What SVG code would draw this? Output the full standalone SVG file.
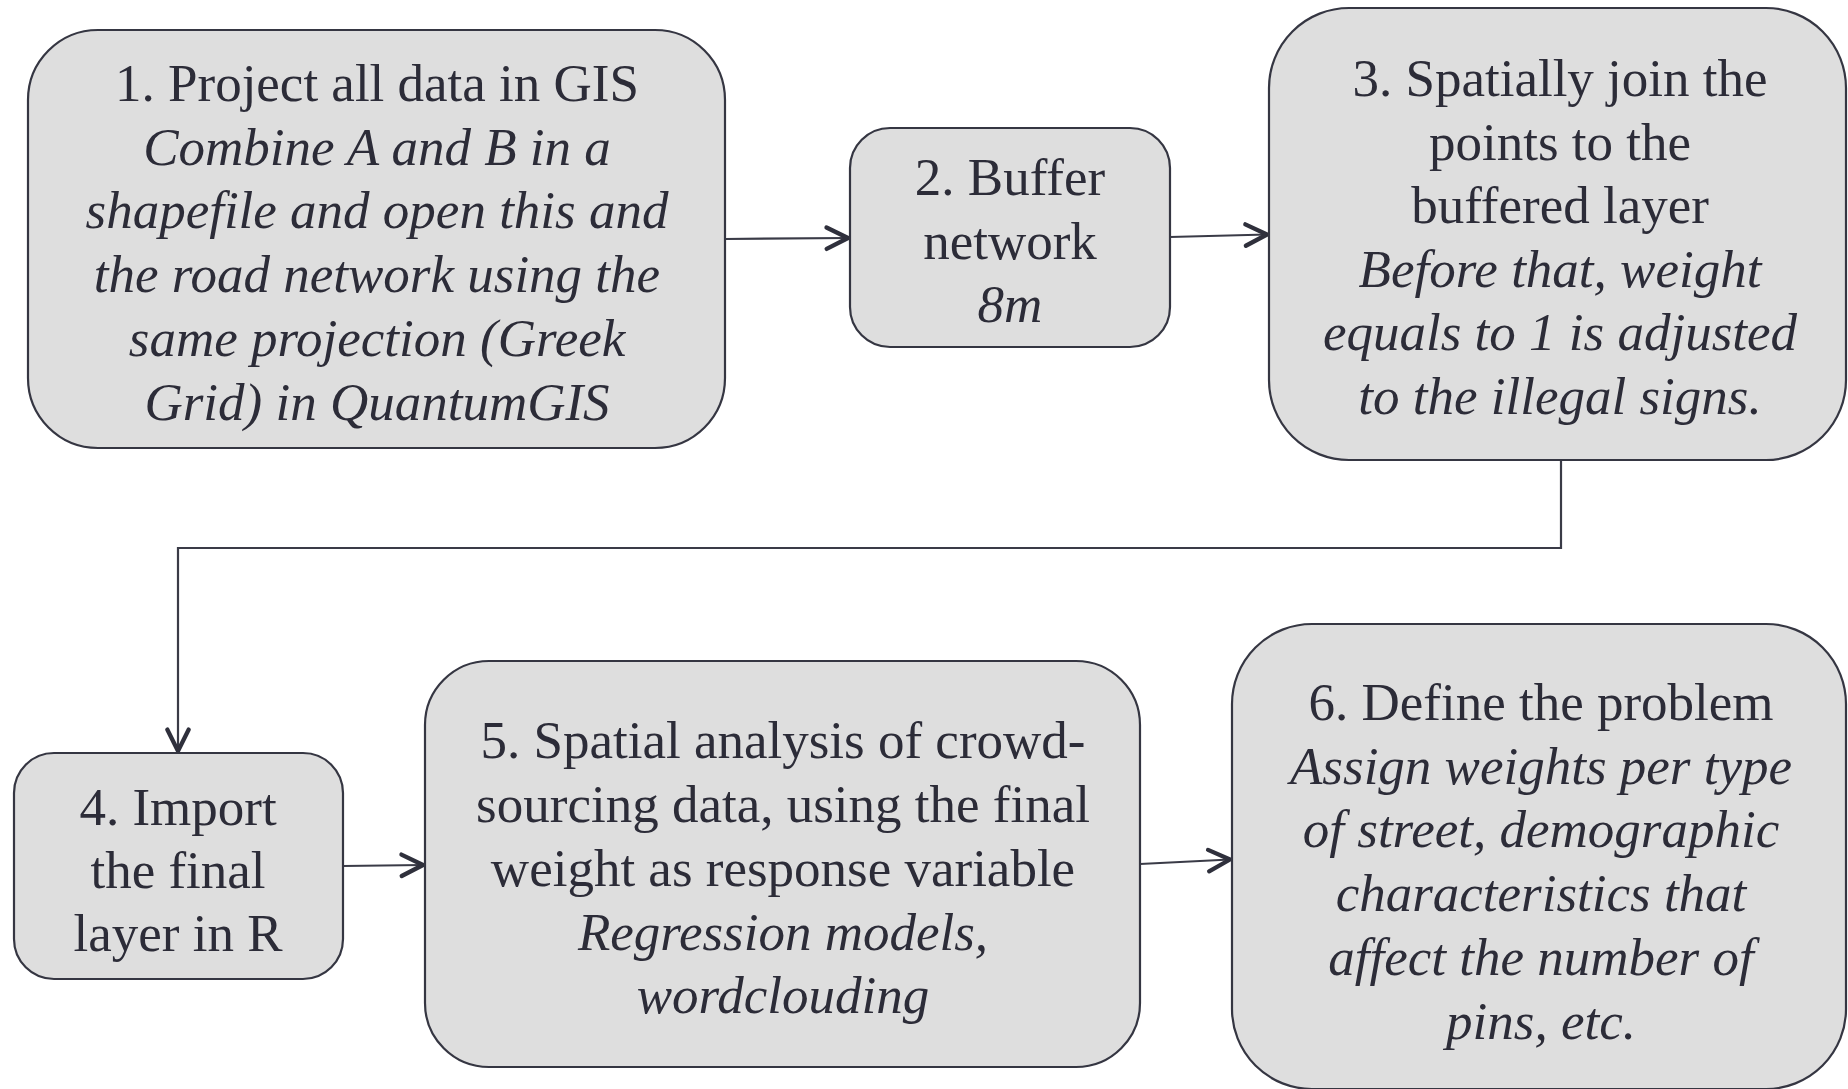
<svg xmlns="http://www.w3.org/2000/svg" width="1848" height="1089" viewBox="0 0 1848 1089">
<style>
.box{fill:#dedede;stroke:#353642;stroke-width:2.2}
.t{font-family:"Liberation Serif","Times New Roman",serif;font-size:53px;fill:#2c2c38;text-anchor:middle}
.i{font-style:italic}
.c{fill:none;stroke:#3a3b47;stroke-width:2.2}
</style>
<defs>
<marker id="arr" markerUnits="userSpaceOnUse" markerWidth="30" markerHeight="30" viewBox="-24 -14 28 28" refX="0" refY="0" orient="auto">
<path d="M -20 -10 L 0 0 L -20 10" fill="none" stroke="#2f303c" stroke-width="4" stroke-linecap="round" stroke-linejoin="round"/>
</marker>
</defs>
<rect width="1848" height="1089" fill="#ffffff"/>
<g id="connectors">
<path class="c" d="M 725 239 L 848 238" marker-end="url(#arr)"/>
<path class="c" d="M 1170 237 L 1267 234.5" marker-end="url(#arr)"/>
<path class="c" d="M 1561 461 L 1561 548 L 178 548 L 178 751" marker-end="url(#arr)"/>
<path class="c" d="M 343 866 L 423 865" marker-end="url(#arr)"/>
<path class="c" d="M 1140 864 L 1230 859.5" marker-end="url(#arr)"/>
</g>
<g id="node1">
<rect class="box" x="28" y="30" width="697" height="418" rx="70" ry="70"/>
<text class="t" x="377" y="101">1. Project all data in GIS</text>
<text class="t i" x="377" y="165">Combine A and B in a</text>
<text class="t i" x="377" y="228">shapefile and open this and</text>
<text class="t i" x="377" y="292">the road network using the</text>
<text class="t i" x="377" y="356">same projection (Greek</text>
<text class="t i" x="377" y="420">Grid) in QuantumGIS</text>
</g>
<g id="node2">
<rect class="box" x="850" y="128" width="320" height="219" rx="40" ry="40"/>
<text class="t" x="1010" y="195">2. Buffer</text>
<text class="t" x="1010" y="259">network</text>
<text class="t i" x="1010" y="322">8m</text>
</g>
<g id="node3">
<rect class="box" x="1269" y="8" width="577" height="452" rx="80" ry="80"/>
<text class="t" x="1560" y="96">3. Spatially join the</text>
<text class="t" x="1560" y="160">points to the</text>
<text class="t" x="1560" y="223">buffered layer</text>
<text class="t i" x="1560" y="287">Before that, weight</text>
<text class="t i" x="1560" y="350">equals to 1 is adjusted</text>
<text class="t i" x="1560" y="414">to the illegal signs.</text>
</g>
<g id="node4">
<rect class="box" x="14" y="753" width="329" height="226" rx="40" ry="40"/>
<text class="t" x="178" y="825">4. Import</text>
<text class="t" x="178" y="888">the final</text>
<text class="t" x="178" y="951">layer in R</text>
</g>
<g id="node5">
<rect class="box" x="425" y="661" width="715" height="406" rx="64" ry="64"/>
<text class="t" x="783" y="758">5. Spatial analysis of crowd-</text>
<text class="t" x="783" y="822">sourcing data, using the final</text>
<text class="t" x="783" y="886">weight as response variable</text>
<text class="t i" x="783" y="950">Regression models,</text>
<text class="t i" x="783" y="1013">wordclouding</text>
</g>
<g id="node6">
<rect class="box" x="1232" y="624" width="614" height="465" rx="80" ry="80"/>
<text class="t" x="1541" y="720">6. Define the problem</text>
<text class="t i" x="1541" y="784">Assign weights per type</text>
<text class="t i" x="1541" y="847">of street, demographic</text>
<text class="t i" x="1541" y="911">characteristics that</text>
<text class="t i" x="1541" y="975">affect the number of</text>
<text class="t i" x="1541" y="1039">pins, etc.</text>
</g>
</svg>
